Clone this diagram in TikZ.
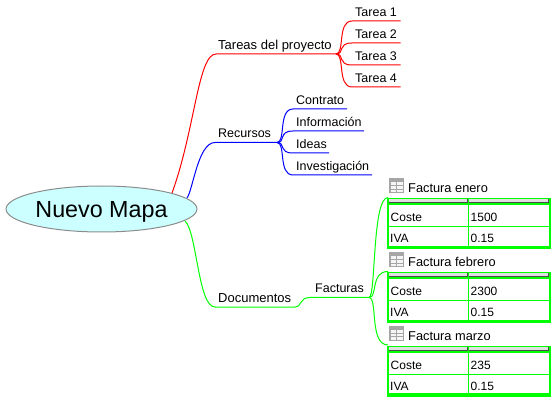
\documentclass[tikz,border=0pt]{standalone}
\usepackage{fontspec}
\setmainfont{Liberation Sans}
\definecolor{lime}{RGB}{0,255,0}
\definecolor{rootfill}{RGB}{204,255,255}
\definecolor{rootline}{RGB}{140,140,140}
\tikzset{
  lbl/.style={anchor=base west,inner sep=0pt,yshift=-.7pt,font=\fontsize{12.5}{15}\selectfont},
  lblwide/.style={lbl,font=\fontsize{13}{15}\selectfont},
  cell/.style={anchor=base west,inner sep=0pt,yshift=-.7pt,font=\fontsize{12}{14}\selectfont},
  titlelbl/.style={anchor=base west,inner sep=0pt,yshift=-.7pt,font=\fontsize{12.8}{15}\selectfont},
  rootnode/.style={ellipse,draw=rootline,fill=rootfill,line width=1pt,minimum width=191pt,minimum height=46pt,inner sep=0pt},
  roottext/.style={inner sep=0pt,font=\fontsize{23.3}{28}\selectfont},
  redc/.style={draw=red,line width=1pt},
  bluec/.style={draw=blue,line width=1pt},
  greenc/.style={draw=lime,line width=1pt},
}
\usetikzlibrary{shapes.geometric}
\newcommand{\FactTable}[5]{%
\begin{scope}[shift={(0,#1)}]
  % icon
  \fill[gray!70] (389,178) rectangle (404,193);
  \fill[white!92!gray] (390.5,182) rectangle (402.5,192);
  \draw[gray!70,line width=.6pt] (396.5,182)--(396.5,192) (390.5,185.5)--(402.5,185.5) (390.5,189)--(402.5,189);
  \node[titlelbl] (#2t) at (408,192) {#3};
  % header buttons
  \fill[gray!25] (389,199) rectangle (467,203);
  \fill[gray!25] (469,199) rectangle (548,203);
  \draw[gray!60!black,line width=1pt] (389,203)--(467,203) (469,203)--(548,203);
  \draw[gray!60!black,line width=.8pt] (467,199)--(467,203) (548,199)--(548,203);
  % frame
  \draw[lime,line width=1pt] (388,198.5)--(549.5,198.5);
  \draw[lime,line width=2pt] (388,198)--(388,248);
  \draw[lime,line width=2pt] (549.5,198)--(549.5,248);
  \draw[lime,line width=2pt] (387,204.5)--(550.5,204.5);
  \draw[lime,line width=1pt] (388,227)--(549.5,227);
  \draw[lime,line width=3.5pt] (387,247.5)--(550.5,247.5);
  \draw[lime,line width=1pt] (468,198)--(468,247);
  \node[cell] (#2a) at (390.5,221) {Coste};
  \node[cell] (#2b) at (470.5,221) {#4};
  \node[cell] (#2c) at (390,242) {IVA};
  \node[cell] (#2d) at (470.5,242) {#5};
\end{scope}}
\begin{document}
\begin{tikzpicture}[x=1pt,y=-1pt]
\useasboundingbox (0,0) rectangle (555,401);
% junction and end points
\coordinate (r0) at (172,193);
\coordinate (r1) at (216,54);
\coordinate (r2) at (336,54);
\coordinate (b0) at (187,198);
\coordinate (b1) at (215,142.5);
\coordinate (b2) at (277,142.5);
\coordinate (g0) at (185,221);
\coordinate (g1) at (215,307);
\coordinate (g2) at (295,307);
\coordinate (g3) at (310,297.5);
\coordinate (g4) at (369,297.5);
% children ends
\foreach \n/\y in {1/21,2/43,3/65,4/87}{
  \coordinate (ts\n) at (352,\y);
  \coordinate (te\n) at (400.5,\y);
}
\foreach \n/\y/\e in {1/109/347,2/131/364,3/153/329,4/175/372}{
  \coordinate (rs\n) at (293,\y);
  \coordinate (re\n) at (\e,\y);
}
\coordinate (f1) at (388,197.5);
\coordinate (f2) at (388,271.5);
\coordinate (f3) at (388,345);
% connectors
\path[redc] (r0) .. controls (195,130) and (198,54) .. (r1) -- (r2);
\foreach \n/\y in {1/21,2/43,3/65,4/87}{
  \path[redc] (r2) .. controls (345,54) and (337,\y) .. (ts\n) -- (te\n);
}
\path[bluec] (b0) .. controls (193,190) and (198,142.5) .. (b1) -- (b2);
\foreach \n/\y in {1/109,2/131,3/153,4/175}{
  \path[bluec] (b2) .. controls (286,142.5) and (278,\y) .. (rs\n) -- (re\n);
}
\path[greenc] (g0) .. controls (197,232) and (198,307) .. (g1) -- (g2) .. controls (302,307) and (299,297.5) .. (g3) -- (g4);
\path[greenc] (g4) .. controls (376,297.5) and (372,197.5) .. (f1);
\path[greenc] (g4) .. controls (378,297.5) and (370,271.5) .. (f2);
\path[greenc] (g4) .. controls (378,297.5) and (369,345) .. (f3);
% root
\node[rootnode] (root) at (101.5,209) {};
\node[roottext] (roott) at (101.5,211.5) {Nuevo Mapa};
% labels
\node[lblwide] (tp) at (218,49) {Tareas del proyecto};
\node[lbl] (t1) at (355,16) {Tarea 1};
\node[lbl] (t2) at (355,38) {Tarea 2};
\node[lbl] (t3) at (355,60) {Tarea 3};
\node[lbl] (t4) at (355,82) {Tarea 4};
\node[lbl] (rc) at (218,137) {Recursos};
\node[lbl] (c1) at (296,104) {Contrato};
\node[lbl] (c2) at (296,126) {Información};
\node[lbl] (c3) at (296,148) {Ideas};
\node[lbl] (c4) at (296,170) {Investigación};
\node[lblwide] (dc) at (218,302) {Documentos};
\node[lbl] (fa) at (315,292) {Facturas};
% tables
\FactTable{0}{ta}{Factura enero}{1500}{0.15}
\FactTable{74}{tb}{Factura febrero}{2300}{0.15}
\FactTable{147.5}{tc}{Factura marzo}{235}{0.15}
\end{tikzpicture}
\end{document}
